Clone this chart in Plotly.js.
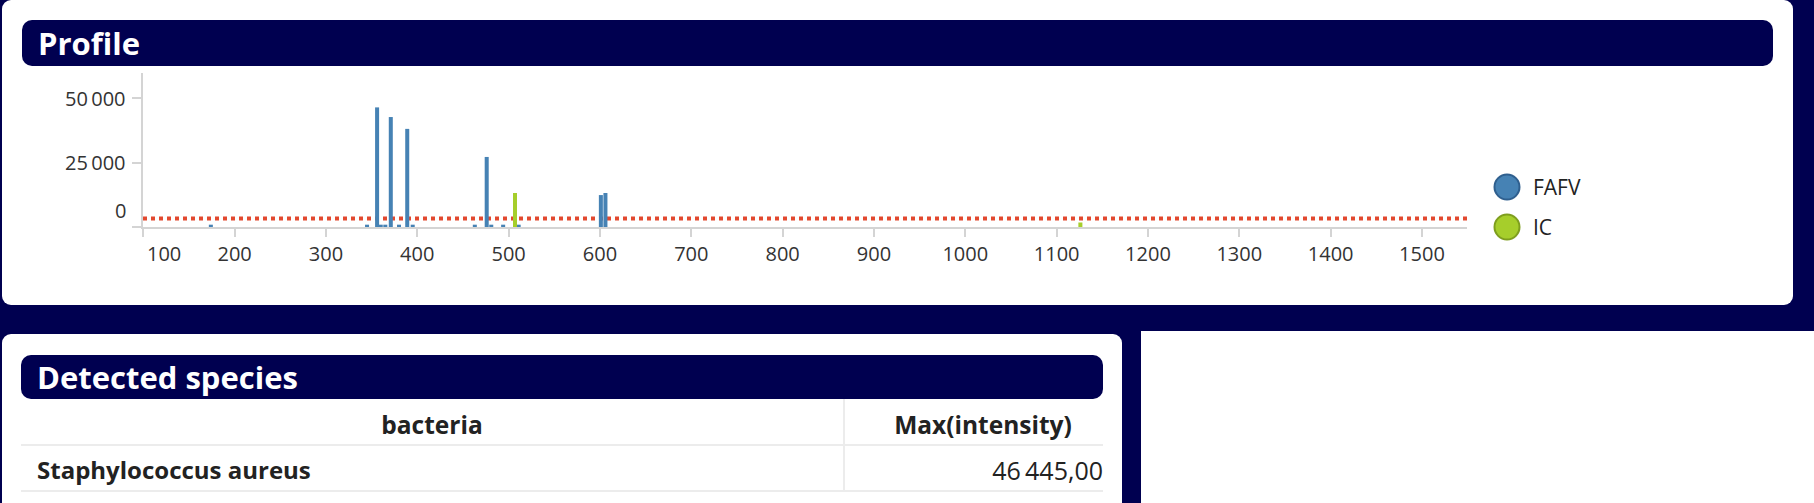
<!DOCTYPE html>
<html>
<head>
<meta charset="utf-8">
<script src="https://cdn.plot.ly/plotly-3.0.1.min.js"></script>
<style>
  body { margin:0; width:1814px; height:503px; overflow:hidden; background:#fff; position:relative;
         font-family:"Open Sans", sans-serif; }
  .dark { position:absolute; background:#000050; }
  .panel { position:absolute; background:#fff; border-radius:9px; }
  .head { position:absolute; background:#000050; border-radius:10px; color:#fff; font-weight:700;
          font-size:31px; box-sizing:border-box; white-space:nowrap; }
  .cell { position:absolute; color:#222; font-size:24px; white-space:nowrap; box-sizing:border-box; }
  .hline { position:absolute; height:2px; background:#ececec; }
  .vline { position:absolute; width:2px; background:#ececec; }
</style>
</head>
<body>
<div class="dark" style="left:0;top:0;width:1814px;height:331px"></div>
<div class="dark" style="left:0;top:331px;width:1141px;height:172px"></div>

<div class="panel" style="left:2px;top:0;width:1791px;height:305px"></div>
<div class="head" style="left:22px;top:20px;width:1751px;height:46px;line-height:46px;padding-left:16px">Profile</div>
<div id="profile" style="position:absolute;left:0;top:66px;width:1790px;height:240px"></div>

<div class="panel" style="left:2px;top:334px;width:1120px;height:190px"></div>
<div class="head" style="left:21px;top:355px;width:1082px;height:44px;line-height:44px;padding-left:16px">Detected species</div>
<div id="species"></div>

<script>
// peaks (mass position, intensity)
fafvMass = [174, 345, 356, 360, 365, 371, 380, 389, 395, 463, 476, 481, 494, 511, 601, 606]
fafvIntensity = [900, 900, 46445, 900, 900, 42700, 900, 38100, 900, 900, 27200, 900, 900, 900, 12400, 13200]
icMass = [507, 1126]
icIntensity = [13200, 1750]

threshold = 3300
xTicks = [100, 200, 300, 400, 500, 600, 700, 800, 900, 1000, 1100, 1200, 1300, 1400, 1500]
yTicks = [0, 25000, 50000]

seriesNames = ["FAFV", "IC"]
seriesColors = ["#4682b4", "#a6ce2b"]
seriesEdges = ["#2f5f8e", "#7e9e1e"]

// detected species table
tableHeaders = ["bacteria", "Max(intensity)"]
speciesNames = ["Staphylococcus aureus"]
speciesMax = [46445.00]

function fmt(v, dec){
    var s = v.toFixed(dec)
    var parts = s.split(".")
    var intPart = parts[0].replace(/\B(?=(\d{3})+(?!\d))/g, "\u2009")
    return dec > 0 ? intPart + "," + parts[1] : intPart
}

var tickFont = {family: "Open Sans", size: 20, color: "#333"}
var axisGray = "#d4d4d4"

var data = [
  {type: "bar", x: fafvMass, y: fafvIntensity, width: 4.4, name: seriesNames[0],
   marker: {color: seriesColors[0]}, showlegend: false, hoverinfo: "x+y"},
  {type: "bar", x: icMass, y: icIntensity, width: 4.4, name: seriesNames[1],
   marker: {color: seriesColors[1]}, showlegend: false, hoverinfo: "x+y"}
]

var shapes = [{
    type: "line", xref: "paper", x0: 0, x1: 1, yref: "y", y0: threshold, y1: threshold,
    layer: "below", line: {color: "#e2492f", width: 4, dash: "dot"}
}]
var annotations = []

// y tick labels (the zero label sits raised above the axis, like the original)
yTicks.forEach(function(v){
    annotations.push({xref: "paper", x: 0, xanchor: "right", xshift: -15,
        yref: "y", y: v, yanchor: "middle", yshift: v === 0 ? 17 : 0,
        text: fmt(v, 0), showarrow: false, font: tickFont})
})

// the first x label is pushed right, clear of the y axis
var xTickText = xTicks.map(function(v, i){ return i === 0 ? "" : String(v) })
annotations.push({xref: "x", x: xTicks[0], xanchor: "center", xshift: 21,
    yref: "paper", y: 0, yanchor: "top", yshift: -11,
    text: String(xTicks[0]), showarrow: false, font: tickFont})

// legend with big round swatches
seriesNames.forEach(function(name, i){
    var up = 40 - i * 40
    shapes.push({type: "circle", xref: "paper", xsizemode: "pixel", xanchor: 1, x0: 27.5, x1: 52.5,
        yref: "paper", ysizemode: "pixel", yanchor: 0, y0: up - 12.5, y1: up + 12.5,
        fillcolor: seriesColors[i], line: {color: seriesEdges[i], width: 2}})
    annotations.push({xref: "paper", x: 1, xanchor: "left", xshift: 64,
        yref: "paper", y: 0, yanchor: "middle", yshift: up,
        text: name, showarrow: false, font: {family: "Open Sans", size: 21, color: "#222"}})
})

var layout = {
    width: 1790, height: 240,
    margin: {l: 143, r: 323, t: 7, b: 79},
    paper_bgcolor: "rgba(0,0,0,0)",
    plot_bgcolor: "rgba(0,0,0,0)",
    barmode: "overlay",
    showlegend: false,
    font: tickFont,
    xaxis: {range: [99.7, 1549.3], tickvals: xTicks, ticktext: xTickText, ticks: "outside", ticklen: 8, tickwidth: 2,
            tickcolor: axisGray, showline: true, linecolor: axisGray, linewidth: 2,
            showgrid: false, zeroline: false, tickfont: tickFont},
    yaxis: {range: [0, 59800], tickvals: yTicks, ticks: "outside", ticklen: 9, tickwidth: 2,
            tickcolor: axisGray, showline: true, linecolor: axisGray, linewidth: 2,
            showgrid: false, zeroline: false, showticklabels: false},
    shapes: shapes,
    annotations: annotations
}

Plotly.newPlot("profile", data, layout, {displayModeBar: false, staticPlot: true})

// table
var tbl = document.getElementById("species")
var colX = [21, 843, 1103]
var html = ""
html += '<div class="cell" style="left:' + colX[0] + 'px;top:404px;width:' + (colX[1]-colX[0]) + 'px;text-align:center;font-weight:700;font-size:24.5px;line-height:42px">' + tableHeaders[0] + '</div>'
html += '<div class="cell" style="left:' + colX[1] + 'px;top:404px;width:' + (colX[2]-colX[1]) + 'px;padding-left:20px;text-align:center;font-weight:700;font-size:24.5px;line-height:42px">' + tableHeaders[1] + '</div>'
html += '<div class="hline" style="left:' + colX[0] + 'px;top:444px;width:' + (colX[2]-colX[0]) + 'px"></div>'
speciesNames.forEach(function(n, i){
    var top = 448 + i * 46
    html += '<div class="cell" style="left:' + colX[0] + 'px;top:' + top + 'px;width:' + (colX[1]-colX[0]) + 'px;padding-left:16px;font-weight:700;line-height:44px">' + n + '</div>'
    html += '<div class="cell" style="left:' + colX[1] + 'px;top:' + top + 'px;width:' + (colX[2]-colX[1]) + 'px;text-align:right;font-size:25px;line-height:44px">' + fmt(speciesMax[i], 2) + '</div>'
    html += '<div class="hline" style="left:' + colX[0] + 'px;top:' + (top + 42) + 'px;width:' + (colX[2]-colX[0]) + 'px"></div>'
})
html += '<div class="vline" style="left:' + colX[1] + 'px;top:399px;height:92px"></div>'
tbl.innerHTML = html
</script>
</body>
</html>
